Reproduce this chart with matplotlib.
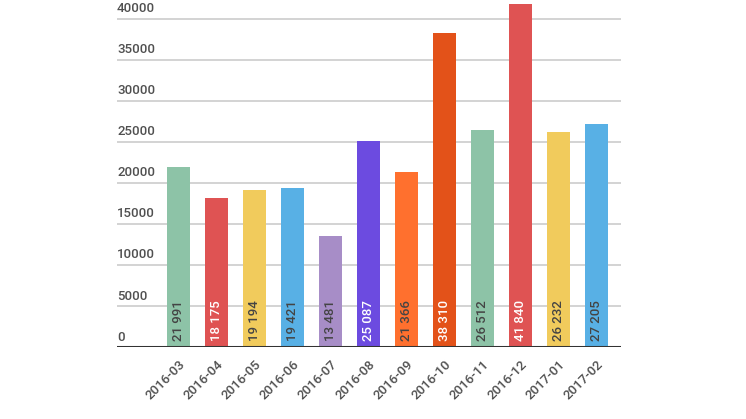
import matplotlib
matplotlib.use("Agg")
import matplotlib.pyplot as plt

months = ["2016-03", "2016-04", "2016-05", "2016-06", "2016-07", "2016-08",
          "2016-09", "2016-10", "2016-11", "2016-12", "2017-01", "2017-02"]
counts = [21991, 18175, 19194, 19421, 13481, 25087,
          21366, 38310, 26512, 41840, 26232, 27205]
bar_colors = ["#8dc3a7", "#df5353", "#f1cb5c", "#58b0e5", "#a78dc7", "#6c4be0",
              "#ff702e", "#e35219", "#8dc3a7", "#df5353", "#f1cb5c", "#58b0e5"]
label_colors = ["#444444", "#ffffff", "#444444", "#444444", "#444444", "#ffffff",
                "#444444", "#ffffff", "#444444", "#ffffff", "#444444", "#444444"]
y_ticks = [0, 5000, 10000, 15000, 20000, 25000, 30000, 35000, 40000]

plt.rcParams["font.family"] = ["Roboto", "DejaVu Sans"]
plt.rcParams["font.weight"] = "medium"

fig = plt.figure(figsize=(7.46, 4.19), dpi=100)
ax = fig.add_axes([117 / 746, 1 - 347 / 419, (621 - 117) / 746, 347 / 419])

x = list(range(len(months)))
ax.bar(x, counts, width=0.6, color=bar_colors, zorder=3)

# light grid lines, dark baseline
for v in y_ticks[1:]:
    ax.axhline(v, color="#cccccc", lw=1.2, zorder=1)
ax.axhline(0, color="#333333", lw=2.2, zorder=4)

ax.set_xlim(-1.62, 11.64)
ax.set_ylim(0, 42300)

# y labels sit above the grid lines at the left edge
for v in y_ticks:
    ax.annotate(str(v), xy=(0, v), xycoords=("axes fraction", "data"),
                xytext=(0, 2.5), textcoords="offset points",
                ha="left", va="bottom", fontsize=9.5, color="#505050")

# value labels inside the bars
for i, (c, lc) in enumerate(zip(counts, label_colors)):
    txt = f"{c:,}".replace(",", " ")
    ax.annotate(txt, xy=(i, 0), xytext=(0, 4), textcoords="offset points",
                rotation=90, ha="center", va="bottom", fontsize=9.5,
                color=lc, zorder=5)

ax.set_xticks(x)
ax.set_xticklabels(months, rotation=45, ha="right", rotation_mode="anchor",
                   fontsize=9.5, color="#505050")
ax.tick_params(axis="x", length=0, pad=8)
ax.set_yticks([])
for s in ax.spines.values():
    s.set_visible(False)

fig.savefig("out.png", dpi=100)
